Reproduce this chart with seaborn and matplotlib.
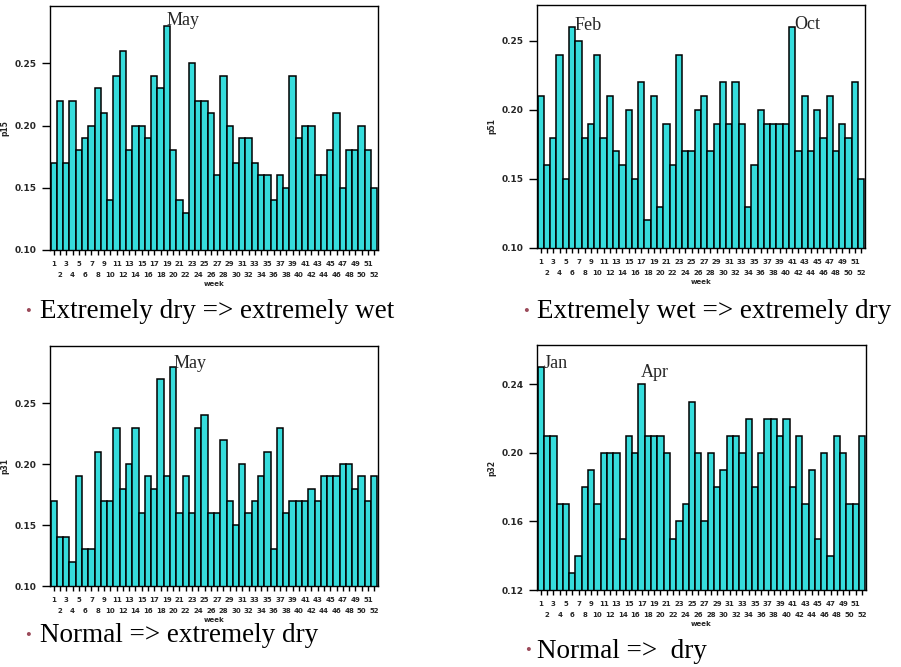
import matplotlib
matplotlib.use("Agg")
import matplotlib.pyplot as plt
import seaborn as sns

weeks = list(range(1, 53))

p15 = [0.17, 0.22, 0.17, 0.22, 0.18, 0.19, 0.20, 0.23, 0.21, 0.14,
       0.24, 0.26, 0.18, 0.20, 0.20, 0.19, 0.24, 0.23, 0.28, 0.18,
       0.14, 0.13, 0.25, 0.22, 0.22, 0.21, 0.16, 0.24, 0.20, 0.17,
       0.19, 0.19, 0.17, 0.16, 0.16, 0.14, 0.16, 0.15, 0.24, 0.19,
       0.20, 0.20, 0.16, 0.16, 0.18, 0.21, 0.15, 0.18, 0.18, 0.20,
       0.18, 0.15]

p51 = [0.21, 0.16, 0.18, 0.24, 0.15, 0.26, 0.25, 0.18, 0.19, 0.24,
       0.18, 0.21, 0.17, 0.16, 0.20, 0.15, 0.22, 0.12, 0.21, 0.13,
       0.19, 0.16, 0.24, 0.17, 0.17, 0.20, 0.21, 0.17, 0.19, 0.22,
       0.19, 0.22, 0.19, 0.13, 0.16, 0.20, 0.19, 0.19, 0.19, 0.19,
       0.26, 0.17, 0.21, 0.17, 0.20, 0.18, 0.21, 0.17, 0.19, 0.18,
       0.22, 0.15]

p31 = [0.17, 0.14, 0.14, 0.12, 0.19, 0.13, 0.13, 0.21, 0.17, 0.17,
       0.23, 0.18, 0.20, 0.23, 0.16, 0.19, 0.18, 0.27, 0.19, 0.28,
       0.16, 0.19, 0.16, 0.23, 0.24, 0.16, 0.16, 0.22, 0.17, 0.15,
       0.20, 0.16, 0.17, 0.19, 0.21, 0.13, 0.23, 0.16, 0.17, 0.17,
       0.17, 0.18, 0.17, 0.19, 0.19, 0.19, 0.20, 0.20, 0.18, 0.19,
       0.17, 0.19]

p32 = [0.25, 0.21, 0.21, 0.17, 0.17, 0.13, 0.14, 0.18, 0.19, 0.17,
       0.20, 0.20, 0.20, 0.15, 0.21, 0.20, 0.24, 0.21, 0.21, 0.21,
       0.20, 0.15, 0.16, 0.17, 0.23, 0.20, 0.16, 0.20, 0.18, 0.19,
       0.21, 0.21, 0.20, 0.22, 0.18, 0.20, 0.22, 0.22, 0.21, 0.22,
       0.18, 0.21, 0.17, 0.19, 0.15, 0.20, 0.14, 0.21, 0.20, 0.17,
       0.17, 0.21]

captions = ["Extremely dry => extremely wet", "Extremely wet => extremely dry",
            "Normal => extremely dry", "Normal =>  dry"]
ylabels = ["p15", "p51", "p31", "p32"]

sns.set_style("white")
plt.rcParams["font.family"] = ["DejaVu Sans"]

fig = plt.figure(figsize=(9.01, 6.67), dpi=100)
fig.patch.set_facecolor("white")

# axes boxes in figure fractions: left, bottom, width, height
boxes = [
    [0.0555, 0.6252, 0.364, 0.3658],
    [0.596, 0.6282, 0.364, 0.3643],
    [0.0555, 0.1214, 0.364, 0.3598],
    [0.596, 0.1154, 0.365, 0.3673],
]
series = [p15, p51, p31, p32]
ylims = [(0.10, 0.296), (0.10, 0.276), (0.10, 0.297), (0.12, 0.263)]
yticks = [[0.10, 0.15, 0.20, 0.25]] * 3 + [[0.12, 0.16, 0.20, 0.24]]

# month notes: (panel, bar position, y value, text)
notes = [(0, 18.0, 0.284, "May"),
         (1, 5.3, 0.261, "Feb"), (1, 40.4, 0.262, "Oct"),
         (2, 19.1, 0.283, "May"),
         (3, 0.5, 0.252, "Jan"), (3, 15.9, 0.247, "Apr")]

odd_pos = [i for i, w in enumerate(weeks) if w % 2]
even_pos = [i for i, w in enumerate(weeks) if not w % 2]

axes = []
for i in range(4):
    ax = fig.add_axes(boxes[i])
    sns.barplot(x=weeks, y=series[i], ax=ax, color="#36dcdc", saturation=1,
                edgecolor="black", linewidth=1.1, width=1.0, errorbar=None)
    ax.set_ylim(*ylims[i])
    ax.set_xlim(-0.6, 51.6)
    ax.set_yticks(yticks[i])
    ax.set_yticklabels(["%.2f" % t for t in yticks[i]], fontsize=6.5, fontweight="bold")
    # odd weeks on the first row, even weeks on a second row below
    ax.set_xticks(odd_pos)
    ax.set_xticklabels([str(weeks[p]) for p in odd_pos], fontsize=5, fontweight="bold")
    ax.set_xticks(even_pos, minor=True)
    ax.set_xticklabels([str(weeks[p]) for p in even_pos], minor=True,
                       fontsize=5, fontweight="bold")
    ax.tick_params(axis="y", direction="out", length=5.5, width=1.0, color="black", pad=4, left=True)
    ax.tick_params(axis="x", which="major", direction="out", length=3.5, width=1.0,
                   color="black", pad=4.5, bottom=True)
    ax.tick_params(axis="x", which="minor", direction="out", length=3.5, width=1.0,
                   color="black", pad=12, bottom=True)
    ax.set_xlabel("week", fontsize=5, fontweight="bold", labelpad=2.5)
    ax.set_ylabel(ylabels[i], fontsize=5.5, fontweight="bold", labelpad=4)
    for s in ax.spines.values():
        s.set_visible(True)
        s.set_color("black")
        s.set_linewidth(1.0)
    axes.append(ax)

for k, xpos, yval, txt in notes:
    axes[k].text(xpos, yval, txt, fontsize=13, family="Liberation Serif",
                 ha="left", va="center")

# bullet captions below each panel (pixel positions converted to fractions)
cap_pos = [(25, 40, 312), (523, 537, 312), (25, 40, 636), (525, 537, 651)]
for (bx, tx, ty), cap in zip(cap_pos, captions):
    fig.text(bx / 901, 1 - ty / 667, "•", fontsize=12, color="#9b4a5a",
             family="Liberation Serif", ha="left", va="center")
    fig.text(tx / 901, 1 - ty / 667, cap, fontsize=19.5, color="black",
             family="Liberation Serif", ha="left", va="center")

plt.savefig("out.png", dpi=100)
